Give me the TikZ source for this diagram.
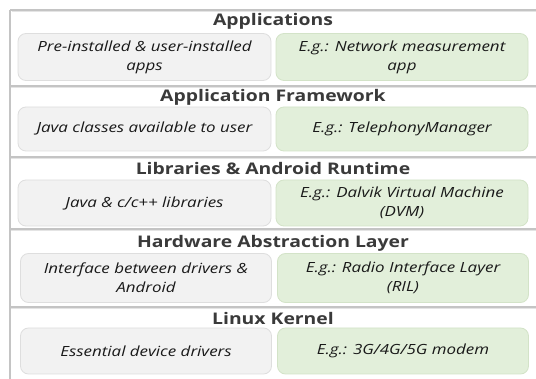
\documentclass[tikz,border=0pt]{standalone}
\usepackage{fontspec}
\setmainfont{Open Sans}
\newfontfamily\widesans[FakeStretch=1.21]{Open Sans}
\definecolor{sepline}{HTML}{C4C4C4}
\definecolor{sepshade}{HTML}{E4E4E4}
\definecolor{greyfill}{HTML}{F2F2F2}
\definecolor{greyedge}{HTML}{DEDEDE}
\definecolor{greenfill}{HTML}{E2EFDA}
\definecolor{greenedge}{HTML}{D3E3C8}
\definecolor{headtext}{HTML}{3A3A3A}
\tikzset{
  sep/.style={draw=sepline, line width=1.3pt},
  sepsh/.style={draw=sepshade, line width=1pt},
  layerhead/.style={font=\widesans\bfseries\fontsize{16}{18}\selectfont, text=headtext, inner sep=0pt, anchor=center},
  boxbase/.style={rounded corners=8pt, line width=0.8pt, align=center, inner sep=0pt,
    font=\widesans\itshape\fontsize{14}{19}\selectfont, text=black!90},
  greybox/.style={boxbase, draw=greyedge, fill=greyfill},
  greenbox/.style={boxbase, draw=greenedge, fill=greenfill},
}
\begin{document}
\begin{tikzpicture}[x=1pt, y=-1pt]
\useasboundingbox (0,0) rectangle (536,379);
\fill[white] (0,0) rectangle (536,379);
% frame lines
\coordinate (tl) at (10,10);
\coordinate (tr) at (536,10);
\coordinate (bl) at (10,379);
\draw[sepsh] (11.5,12) -- (536,12);
\draw[sep] (tl) -- (tr);
\draw[sep] (tl) -- (bl);
\foreach \yy/\nm in {86/a,157/b,229/c,307/d}{
  \coordinate (s\nm l) at (10,\yy);
  \coordinate (s\nm r) at (536,\yy);
  \draw[sepsh] (11,\yy+1.8) -- (536,\yy+1.8);
  \draw[sep] (s\nm l) -- (s\nm r);
}
% layer 1
\node[layerhead] (h1) at (273,21) {Applications};
\node[greybox, minimum width=253pt, minimum height=47pt] (l1) at (144.5,57) {Pre-installed \& user-installed\\apps};
\node[greenbox, minimum width=252pt, minimum height=47pt] (r1) at (402,57) {E.g.: Network measurement\\app};
% layer 2
\node[layerhead] (h2) at (273,97) {Application Framework};
\node[greybox, minimum width=253pt, minimum height=44pt] (l2) at (144.5,129) {Java classes available to user};
\node[greenbox, minimum width=252pt, minimum height=44pt] (r2) at (402,129) {E.g.: TelephonyManager};
% layer 3
\node[layerhead] (h3) at (273,169) {Libraries \& Android Runtime};
\node[greybox, minimum width=253pt, minimum height=46pt] (l3) at (144.5,203) {Java \& c/c++ libraries};
\node[greenbox, minimum width=252pt, minimum height=46pt] (r3) at (402,203) {E.g.: Dalvik Virtual Machine\\(DVM)};
% layer 4
\node[layerhead] (h4) at (273,243) {Hardware Abstraction Layer};
\node[greybox, minimum width=251pt, minimum height=49pt] (l4) at (146,278) {Interface between drivers \&\\Android};
\node[greenbox, minimum width=251pt, minimum height=49pt] (r4) at (403,278) {E.g.: Radio Interface Layer\\(RIL)};
% layer 5
\node[layerhead] (h5) at (273,319) {Linux Kernel};
\node[greybox, minimum width=251pt, minimum height=46pt] (l5) at (146,351) {Essential device drivers};
\node[greenbox, minimum width=251pt, minimum height=46pt] (r5) at (403,351) {E.g.: 3G/4G/5G modem};
\end{tikzpicture}
\end{document}
